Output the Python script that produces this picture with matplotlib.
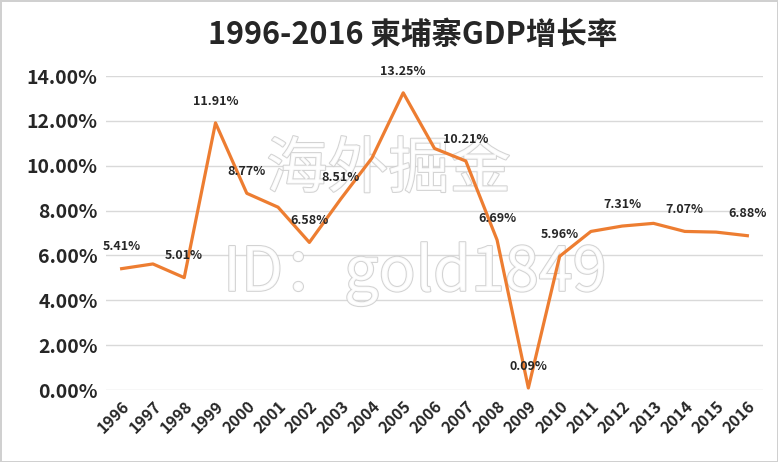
import matplotlib.pyplot as plt
import matplotlib.patheffects as pe

plt.rcParams['font.family'] = ['Noto Sans CJK SC', 'DejaVu Sans']

years = [str(y) for y in range(1996, 2017)]
growth = [5.41, 5.62, 5.01, 11.91, 8.77, 8.15, 6.58, 8.51, 10.34, 13.25,
          10.77, 10.21, 6.69, 0.09, 5.96, 7.07, 7.31, 7.43, 7.07, 7.04, 6.88]
labelled = ['1996', '1998', '1999', '2000', '2002', '2003', '2005', '2007',
            '2008', '2009', '2010', '2012', '2014', '2016']

fig = plt.figure(figsize=(7.78, 4.62), dpi=100)
fig.patch.set_edgecolor('#d0d0d0')
fig.patch.set_linewidth(2)
ax = fig.add_axes([106 / 778, 1 - 390 / 462, (763 - 106) / 778, (390 - 76) / 462])

xs = list(range(len(years)))
ax.plot(xs, growth, color='#ED7D31', linewidth=2.3, zorder=3)

for i, (yr, v) in enumerate(zip(years, growth)):
    if yr in labelled:
        ax.annotate(f'{v:.2f}%', (i, v), xytext=(0, 11), textcoords='offset points',
                    ha='center', va='bottom', fontsize=9, fontweight='bold',
                    color='#262626', zorder=4)

ax.set_xlim(-0.5, len(years) - 0.5)
ax.set_ylim(0, 14)
ax.set_yticks(range(0, 15, 2))
ax.set_yticklabels([f'{t:.2f}%' for t in range(0, 15, 2)], fontsize=14,
                   fontweight='bold', color='#262626')
ax.set_xticks(xs)
ax.set_xticklabels(years, rotation=45, ha='right', rotation_mode='anchor',
                   fontsize=11.5, fontweight='bold', color='#262626')
ax.tick_params(length=0, pad=6)
ax.grid(axis='y', color='#d9d9d9', linewidth=1)
ax.set_axisbelow(True)
for s in ax.spines.values():
    s.set_visible(False)

# watermark
wm = dict(color='white', alpha=0.9, zorder=1, ha='center', va='center',
          path_effects=[pe.withStroke(linewidth=1.5, foreground='#cfcfcf')])
ax.text(0.43, 0.7, '海外掘金', transform=ax.transAxes, fontsize=44, **wm)
ax.text(0.47, 0.37, 'ID：gold1849', transform=ax.transAxes, fontsize=44, **wm)

fig.text(0.53, 0.925, '1996-2016 柬埔寨GDP增长率', ha='center', va='center',
         fontsize=22, fontweight='bold', color='#262626')

fig.savefig('out.png', dpi=100, edgecolor=fig.get_edgecolor())
